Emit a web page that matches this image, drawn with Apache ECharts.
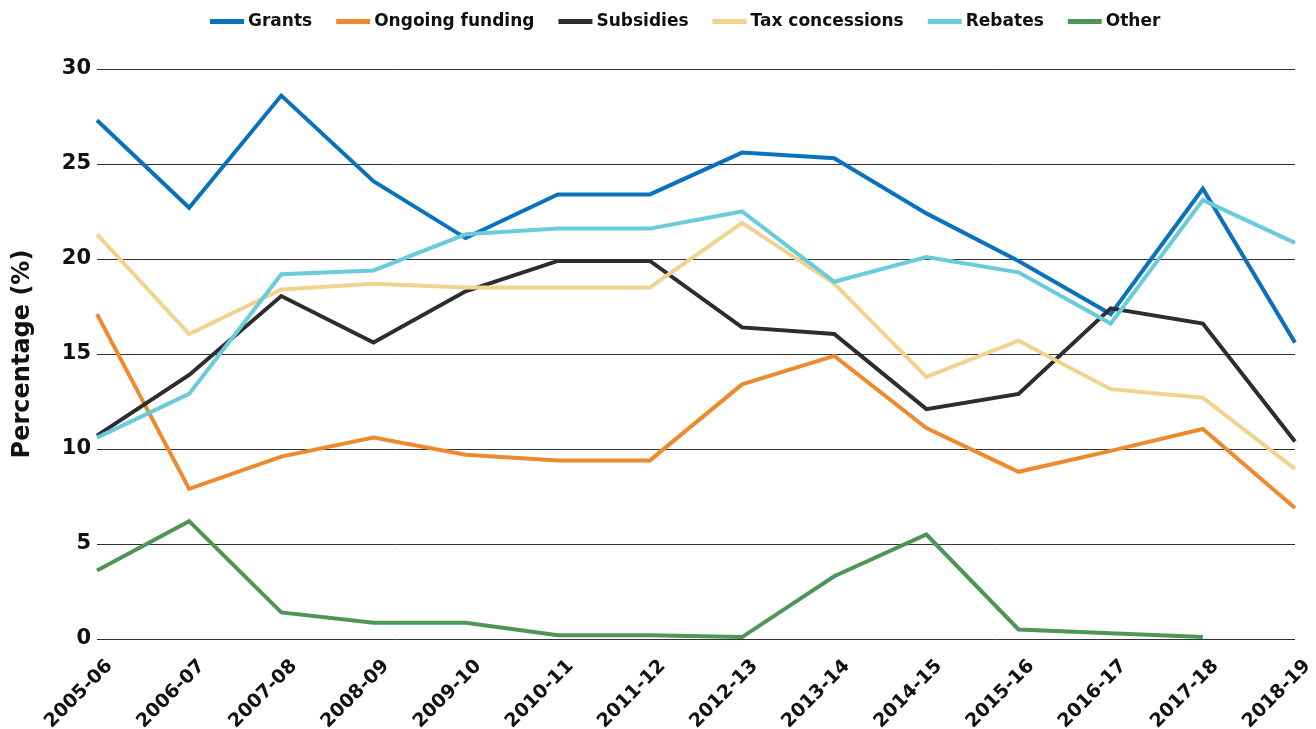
<!DOCTYPE html>
<html>
<head>
<meta charset="utf-8">
<script src="https://cdn.jsdelivr.net/npm/echarts@6/dist/echarts.min.js"></script>
<style>
  html, body { margin: 0; padding: 0; background: #fff; }
  #chart { width: 1316px; height: 729px; }
</style>
</head>
<body>
<div id="chart"></div>
<script>
const years = ['2005-06', '2006-07', '2007-08', '2008-09', '2009-10', '2010-11', '2011-12',
  '2012-13', '2013-14', '2014-15', '2015-16', '2016-17', '2017-18', '2018-19'];

const grants = [27.3, 22.7, 28.6, 24.1, 21.1, 23.4, 23.4, 25.6, 25.3, 22.4, 19.9, 17.1, 23.7, 15.6];
const ongoingFunding = [17.1, 7.9, 9.6, 10.6, 9.7, 9.4, 9.4, 13.4, 14.9, 11.1, 8.8, 9.9, 11.05, 6.9];
const subsidies = [10.7, 13.9, 18.05, 15.6, 18.3, 19.9, 19.9, 16.4, 16.05, 12.1, 12.9, 17.4, 16.6, 10.4];
const taxConcessions = [21.3, 16.05, 18.4, 18.7, 18.5, 18.5, 18.5, 21.9, 18.7, 13.8, 15.7, 13.15, 12.7, 8.95];
const rebates = [10.6, 12.9, 19.2, 19.4, 21.3, 21.6, 21.6, 22.5, 18.8, 20.1, 19.3, 16.6, 23.1, 20.85];
const other = [3.6, 6.2, 1.4, 0.85, 0.85, 0.2, 0.2, 0.1, 3.3, 5.5, 0.5, 0.3, 0.1, null];

const yTicks = [0, 5, 10, 15, 20, 25, 30];

const font = '"DejaVu Sans", sans-serif';

const makeSeries = (name, data, color) => ({
  name,
  type: 'line',
  data,
  symbol: 'none',
  lineStyle: { width: 4, color, join: 'miter' },
  itemStyle: { color },
  emphasis: { disabled: true }
});

const chart = echarts.init(document.getElementById('chart'));

chart.setOption({
  animation: false,
  textStyle: { fontFamily: font },
  legend: {
    top: 8,
    left: 205,
    itemWidth: 34,
    itemHeight: 5,
    itemGap: 24,
    icon: 'rect',
    textStyle: { fontSize: 17, fontWeight: 'bold', color: '#111', fontFamily: font, padding: [0, 0, 0, -1] },
    data: ['Grants', 'Ongoing funding', 'Subsidies', 'Tax concessions', 'Rebates', 'Other']
  },
  grid: {
    left: 97,
    right: 21,
    top: 69,
    bottom: 90,
    containLabel: false,
    outerBoundsMode: 'none'
  },
  xAxis: {
    type: 'category',
    data: years,
    boundaryGap: false,
    axisLine: { show: false },
    axisTick: { show: false },
    axisLabel: {
      rotate: 45,
      fontSize: 19,
      fontWeight: 'bold',
      color: '#111',
      margin: 37,
      padding: [0, -18, 0, 0],
      interval: 0
    }
  },
  yAxis: {
    type: 'value',
    min: yTicks[0],
    max: yTicks[yTicks.length - 1],
    interval: 5,
    name: 'Percentage (%)',
    nameLocation: 'middle',
    nameGap: 62,
    nameTextStyle: { fontSize: 24, fontWeight: 'bold', color: '#111' },
    axisLine: { show: false },
    axisTick: { show: false },
    axisLabel: { fontSize: 21, fontWeight: 'bold', color: '#111', margin: 6 },
    splitLine: { lineStyle: { color: '#333', width: 1 } }
  },
  series: [
    makeSeries('Grants', grants, '#0a72ba'),
    makeSeries('Ongoing funding', ongoingFunding, '#ee8a2e'),
    makeSeries('Subsidies', subsidies, '#2d2d2d'),
    makeSeries('Tax concessions', taxConcessions, '#f0d38e'),
    makeSeries('Rebates', rebates, '#6acbdb'),
    makeSeries('Other', other, '#4e9558')
  ]
});
</script>
</body>
</html>
